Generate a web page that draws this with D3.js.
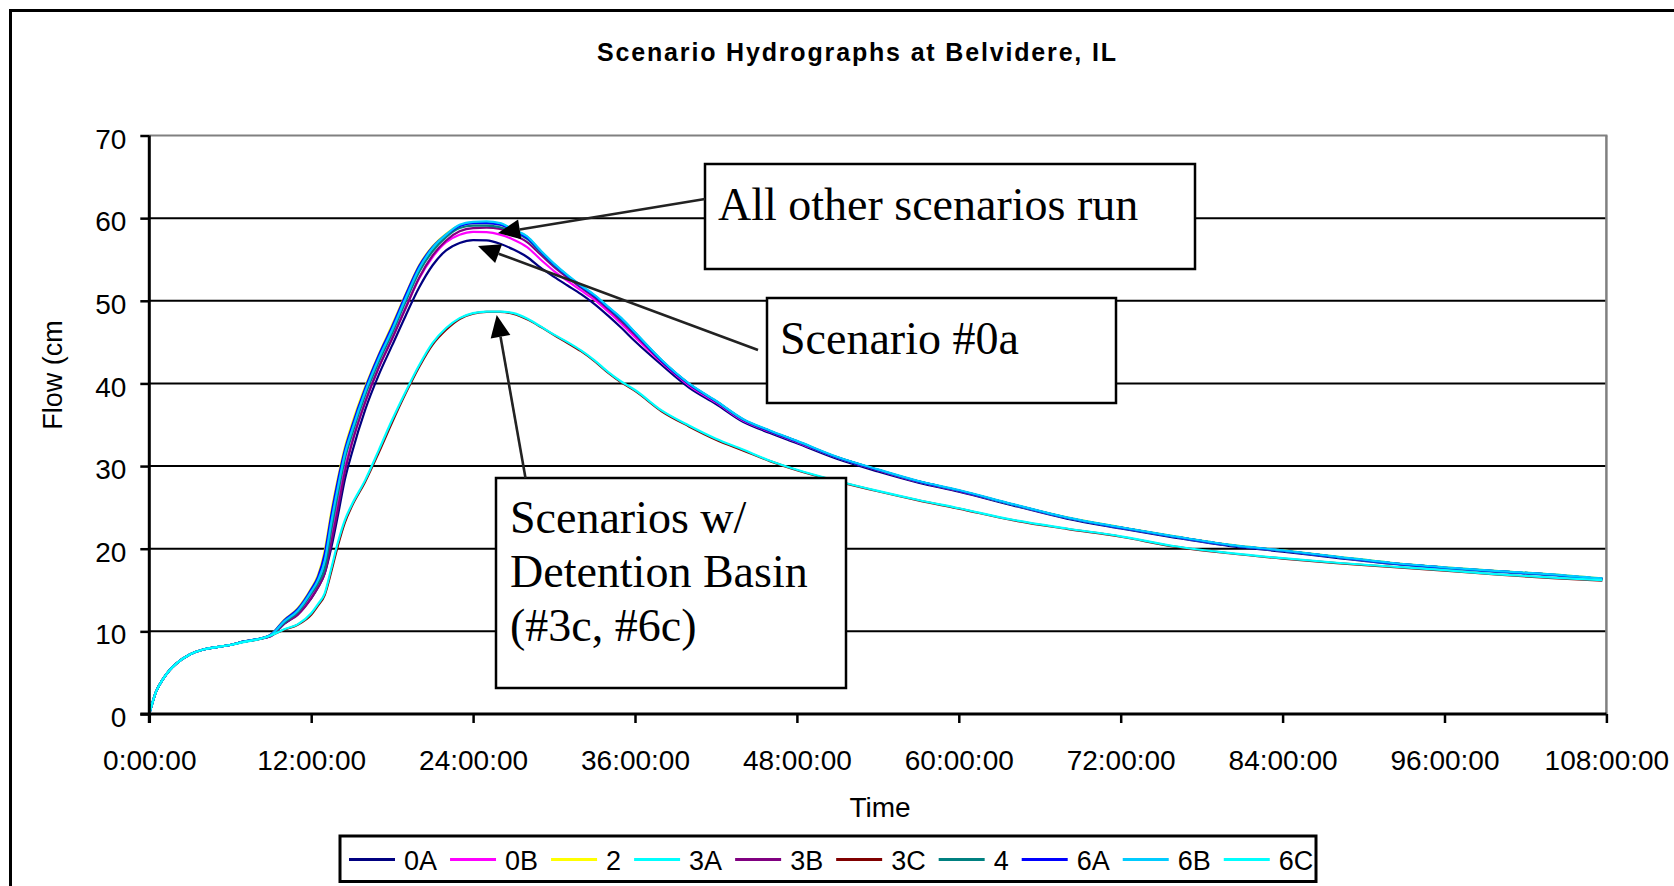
<!DOCTYPE html>
<html><head><meta charset="utf-8">
<script src="https://cdn.jsdelivr.net/npm/d3@7"></script>
<style>
html,body{margin:0;padding:0;background:#fff;}
svg{display:block;}
</style></head>
<body><svg id="chart" width="1674" height="886"></svg>
<script>
// ---- data ----
const times = [0, 0.5, 1, 1.5, 2, 3, 4, 5, 6, 7, 8, 9, 10, 11, 12, 12.5, 13, 13.5, 14, 14.5, 15, 16, 17, 18, 19, 20, 21, 22, 23, 24, 25, 26, 27, 28, 29, 30, 31, 32, 33, 34, 35, 36, 38, 40, 42, 44, 46, 48, 51, 54, 57, 60, 64, 68, 72, 76, 80, 84, 88, 92, 96, 100, 104, 107.7];

const s0A = [0, 2.7, 4.2, 5.3, 6.1, 7.2, 7.8, 8.1, 8.35, 8.75, 9.05, 9.4,
 10.9, 12.1, 14.0,
 15.3, 17.0, 20.2, 24.2, 28.4, 31.5,
 36.8, 41.0, 44.6, 48.2, 51.6, 54.3, 56.1, 57.0, 57.35, 57.3, 56.9, 56.2, 55.3, 54.0, 52.9, 51.85, 50.8, 49.6, 48.2, 46.7, 45.1,
 42.2, 39.5, 37.5, 35.35, 34.0, 32.75,
 30.85, 29.35, 28.0, 26.9,
 25.25, 23.65, 22.45, 21.35, 20.35, 19.65, 18.9, 18.2, 17.65, 17.2, 16.8,
 16.3];
const s0B = [0, 2.7, 4.2, 5.3, 6.1, 7.2, 7.8, 8.1, 8.35, 8.75, 9.05, 9.45,
 11.0, 12.3, 14.3,
 15.7, 17.6, 21.5, 25.7, 29.8, 32.8,
 37.8, 41.9, 45.5, 49.2, 52.7, 55.3, 57.1, 58.0, 58.35, 58.3, 58.0, 57.4, 56.5, 55.0, 53.6, 52.4, 51.25, 50.1, 48.7, 47.2, 45.6,
 42.5, 39.75, 37.7, 35.5, 34.15, 32.9,
 31.0, 29.5, 28.1, 27.0,
 25.35, 23.75, 22.55, 21.45, 20.45, 19.75, 19.0, 18.25, 17.7, 17.25, 16.85,
 16.35];
const s2 = [0, 2.7, 4.2, 5.3, 6.1, 7.2, 7.8, 8.1, 8.35, 8.75, 9.05, 9.6,
 11.4, 12.8, 15.2,
 16.8, 19.8, 24.6, 28.7, 32.3, 35.0,
 39.6, 43.5, 47.1, 50.8, 54.3, 56.6, 58.1, 59.1, 59.4, 59.4, 59.2, 58.5, 57.6, 56.0, 54.4, 53.0, 51.75, 50.6, 49.2, 47.8, 46.1,
 42.7, 39.95, 37.85, 35.65, 34.25, 33.0,
 31.05, 29.55, 28.15, 27.05,
 25.35, 23.8, 22.6, 21.5, 20.5, 19.8, 19.05, 18.3, 17.75, 17.3, 16.9,
 16.4];
const s3A = [0, 2.7, 4.2, 5.3, 6.1, 7.2, 7.8, 8.1, 8.35, 8.75, 9.05, 9.55,
 11.2, 12.5, 14.75,
 16.1, 18.4, 23.1, 27.4, 31.4, 34.1,
 38.9, 42.9, 46.4, 50.2, 53.8, 56.3, 57.9, 59.1, 59.5, 59.5, 59.35, 58.55, 57.75, 56.05, 54.45, 53.05, 51.8, 50.65, 49.25, 47.85, 46.15,
 42.75, 39.95, 37.85, 35.65, 34.25, 33.0,
 31.05, 29.55, 28.15, 27.05,
 25.35, 23.75, 22.55, 21.45, 20.45, 19.75, 19.0, 18.25, 17.7, 17.25, 16.85,
 16.35];
const s3B = [0, 2.7, 4.2, 5.3, 6.1, 7.2, 7.8, 8.1, 8.35, 8.75, 9.05, 9.45,
 10.95, 12.0, 14.0,
 15.3, 17.0, 20.8, 25.0, 29.3, 32.6,
 37.7, 41.9, 45.4, 49.1, 52.8, 55.5, 57.3, 58.4, 58.8, 58.85, 58.7, 58.0, 57.1, 55.6, 54.1, 52.8, 51.6, 50.4, 49.0, 47.5, 45.9,
 42.6, 39.9, 37.8, 35.6, 34.2, 32.95,
 31.0, 29.5, 28.1, 27.0,
 25.35, 23.75, 22.55, 21.45, 20.45, 19.75, 19.0, 18.25, 17.7, 17.25, 16.85,
 16.35];
const s3C = [0, 2.7, 4.2, 5.3, 6.1, 7.2, 7.8, 8.1, 8.35, 8.75, 9.0, 9.5,
 10.2, 10.8, 12.0,
 13.1, 14.4, 17.3, 20.5, 23.2, 25.1,
 28.1, 31.6, 35.3, 38.8, 42.0, 44.7, 46.5, 47.8, 48.45, 48.65, 48.65, 48.4, 47.75, 46.85, 45.85, 44.9, 43.9, 42.7, 41.3, 40.1, 39.1,
 36.6, 34.8, 33.2, 31.9, 30.6, 29.5,
 28.15, 26.95, 25.85, 24.85,
 23.45, 22.4, 21.45, 20.25, 19.45, 18.8, 18.25, 17.8, 17.35, 16.85, 16.45,
 16.15];
const s4 = [0, 2.7, 4.2, 5.3, 6.1, 7.2, 7.8, 8.1, 8.35, 8.75, 9.05, 9.5,
 11.05, 12.3, 14.55,
 15.8, 17.6, 22.4, 26.8, 30.9, 33.7,
 38.6, 42.6, 46.1, 49.9, 53.5, 56.0, 57.7, 58.8, 59.1, 59.1, 58.9, 58.3, 57.5, 55.9, 54.3, 53.0, 51.75, 50.6, 49.2, 47.7, 46.1,
 42.75, 39.95, 37.85, 35.65, 34.25, 33.0,
 31.05, 29.55, 28.15, 27.05,
 25.35, 23.75, 22.55, 21.45, 20.45, 19.75, 19.0, 18.25, 17.7, 17.25, 16.85,
 16.35];
const s6A = [0, 2.7, 4.2, 5.3, 6.1, 7.2, 7.8, 8.1, 8.35, 8.75, 9.05, 9.6,
 11.35, 12.7, 15.1,
 16.6, 19.4, 24.2, 28.4, 32.0, 34.7,
 39.4, 43.4, 46.9, 50.7, 54.2, 56.5, 58.0, 59.05, 59.4, 59.4, 59.2, 58.5, 57.6, 56.0, 54.4, 53.0, 51.75, 50.6, 49.2, 47.8, 46.1,
 42.7, 39.95, 37.85, 35.65, 34.25, 33.0,
 31.05, 29.55, 28.15, 27.05,
 25.35, 23.75, 22.55, 21.45, 20.45, 19.75, 19.0, 18.25, 17.7, 17.25, 16.85,
 16.35];
const s6B = [0, 2.7, 4.2, 5.3, 6.1, 7.2, 7.8, 8.1, 8.35, 8.75, 9.05, 9.55,
 11.2, 12.5, 14.8,
 16.2, 18.5, 23.3, 27.6, 31.5, 34.2,
 39.0, 43.0, 46.5, 50.3, 53.9, 56.4, 58.0, 59.2, 59.55, 59.6, 59.4, 58.6, 57.8, 56.1, 54.5, 53.1, 51.85, 50.7, 49.3, 47.9, 46.2,
 42.8, 40.0, 37.9, 35.7, 34.3, 33.05,
 31.1, 29.6, 28.2, 27.1,
 25.4, 23.8, 22.6, 21.5, 20.5, 19.8, 19.05, 18.3, 17.75, 17.3, 16.9,
 16.4];
const s6C = [0, 2.7, 4.2, 5.3, 6.1, 7.2, 7.8, 8.1, 8.35, 8.7, 9.0, 9.5,
 10.25, 10.85, 12.2,
 13.3, 14.6, 17.7, 20.9, 23.5, 25.3,
 28.3, 31.9, 35.6, 39.0, 42.2, 44.9, 46.7, 47.9, 48.5, 48.7, 48.7, 48.5, 47.85, 46.9, 45.9, 45.0, 44.0, 42.8, 41.4, 40.2, 39.2,
 36.7, 34.9, 33.3, 32.0, 30.65, 29.55,
 28.2, 27.0, 25.9, 24.9,
 23.5, 22.45, 21.5, 20.3, 19.5, 18.85, 18.3, 17.85, 17.4, 16.9, 16.5,
 16.2];

const seriesNames = ["0A", "0B", "2", "3A", "3B", "3C", "4", "6A", "6B", "6C"];
const seriesValues = [s0A, s0B, s2, s3A, s3B, s3C, s4, s6A, s6B, s6C];
const seriesColors = ["#000080", "#FF00FF", "#FFFF00", "#00FFFF", "#800080", "#800000", "#008080", "#0000FF", "#00CCFF", "#00FFFF"];

const yTicks = [0, 10, 20, 30, 40, 50, 60, 70];
const xTicks = [0, 12, 24, 36, 48, 60, 72, 84, 96, 108];
const xTickLabels = ["0:00:00", "12:00:00", "24:00:00", "36:00:00", "48:00:00", "60:00:00", "72:00:00", "84:00:00", "96:00:00", "108:00:00"];

const titleText = "Scenario Hydrographs at Belvidere, IL";
const xTitle = "Time";
const yTitle = "Flow (cm";

// ---- drawing ----
const svg = d3.select("#chart");
const W = 1674, H = 886;
const sans = "'Liberation Sans', Arial, sans-serif";
const serif = "'Liberation Serif', 'Times New Roman', serif";

svg.append("rect").attr("width", W).attr("height", H).attr("fill", "#fff");

// outer frame
svg.append("line").attr("x1", 9).attr("x2", W).attr("y1", 10.5).attr("y2", 10.5).attr("stroke", "#000").attr("stroke-width", 3);
svg.append("line").attr("x1", 10.5).attr("x2", 10.5).attr("y1", 9).attr("y2", H).attr("stroke", "#000").attr("stroke-width", 3);

const x = d3.scaleLinear().domain([0, 108]).range([149.3, 1606.4]);
const y = d3.scaleLinear().domain([0, 70]).range([714, 135.5]);

// title
svg.append("text").attr("x", 597).attr("y", 61)
  .attr("font-family", sans).attr("font-size", 25).attr("font-weight", "bold")
  .attr("textLength", 519).attr("lengthAdjust", "spacing")
  .text(titleText);

// gridlines
const gridG = svg.append("g");
gridG.selectAll("line").data(yTicks.filter(d => d > 0 && d < 70)).join("line")
  .attr("x1", x(0)).attr("x2", x(108))
  .attr("y1", d => y(d)).attr("y2", d => y(d))
  .attr("stroke", "#000").attr("stroke-width", 2);
// plot area top / right border (gray)
svg.append("line").attr("x1", x(0)).attr("x2", x(108) + 1).attr("y1", y(70)).attr("y2", y(70)).attr("stroke", "#808080").attr("stroke-width", 2);
svg.append("line").attr("x1", x(108)).attr("x2", x(108)).attr("y1", y(70)).attr("y2", y(0)).attr("stroke", "#808080").attr("stroke-width", 2.5);

// series
const line = d3.line().x(d => x(d[0])).y(d => y(d[1])).curve(d3.curveMonotoneX);
const seriesG = svg.append("g");
seriesNames.forEach((name, i) => {
  const pts = times.map((t, k) => [t, seriesValues[i][k]]);
  seriesG.append("path").datum(pts)
    .attr("d", line).attr("fill", "none")
    .attr("stroke", seriesColors[i]).attr("stroke-width", 2.2)
    .attr("stroke-linejoin", "round");
});

// axes
const yAxis = d3.axisLeft(y).tickValues(yTicks).tickSize(9).tickSizeOuter(0).tickFormat(d3.format("d"));
const yG = svg.append("g").attr("transform", `translate(${x(0)},0)`).call(yAxis);
yG.select(".domain").attr("stroke", "#000").attr("stroke-width", 3).attr("d", `M0,${y(70)}V${y(0) + 9}`);
yG.selectAll(".tick line").attr("stroke", "#000").attr("stroke-width", 2.5);
yG.selectAll(".tick text").attr("font-family", sans).attr("font-size", 28).attr("fill", "#000")
  .attr("x", -23).attr("dy", "0.45em");

const xAxis = d3.axisBottom(x).tickValues(xTicks).tickSize(9).tickSizeOuter(0).tickFormat((d, i) => xTickLabels[i]);
const xG = svg.append("g").attr("transform", `translate(0,${y(0)})`).call(xAxis);
xG.select(".domain").attr("stroke", "#000").attr("stroke-width", 3).attr("d", `M${x(0) - 9},0H${x(108)}`);
xG.selectAll(".tick line").attr("stroke", "#000").attr("stroke-width", 2.5);
xG.selectAll(".tick text").attr("font-family", sans).attr("font-size", 28).attr("fill", "#000")
  .attr("y", 56).attr("dy", 0);

// axis titles
svg.append("text").attr("x", 880).attr("y", 817).attr("text-anchor", "middle")
  .attr("font-family", sans).attr("font-size", 28).text(xTitle);
svg.append("text").attr("transform", "translate(62,375) rotate(-90)").attr("text-anchor", "middle")
  .attr("font-family", sans).attr("font-size", 27).text(yTitle);

// legend
const legG = svg.append("g");
legG.append("rect").attr("x", 340).attr("y", 836).attr("width", 976).attr("height", 45.5)
  .attr("fill", "#fff").attr("stroke", "#000").attr("stroke-width", 3);
let lx = 349;
seriesNames.forEach((name, i) => {
  legG.append("line").attr("x1", lx).attr("x2", lx + 46).attr("y1", 859.5).attr("y2", 859.5)
    .attr("stroke", seriesColors[i]).attr("stroke-width", 3);
  const t = legG.append("text").attr("x", lx + 55).attr("y", 870)
    .attr("font-family", sans).attr("font-size", 27).text(name);
  const w = t.node().getComputedTextLength();
  lx = lx + 55 + w + 13;
});

// annotations
const ann = svg.append("g");
function box(x0, y0, x1, y1) {
  ann.append("rect").attr("x", x0).attr("y", y0).attr("width", x1 - x0).attr("height", y1 - y0)
    .attr("fill", "#fff").attr("stroke", "#000").attr("stroke-width", 2.5);
}
function arrow(xs, ys, xt, yt) {
  const ang = Math.atan2(yt - ys, xt - xs);
  const L = 22, hw = 10;
  const bx = xt - L * Math.cos(ang), by = yt - L * Math.sin(ang);
  ann.append("line").attr("x1", xs).attr("y1", ys).attr("x2", bx).attr("y2", by)
    .attr("stroke", "#222").attr("stroke-width", 2.6);
  const px = -Math.sin(ang), py = Math.cos(ang);
  ann.append("path").attr("d",
    `M${xt},${yt}L${bx + px * hw},${by + py * hw}L${bx - px * hw},${by - py * hw}Z`).attr("fill", "#000");
}
box(705, 164, 1195, 269);
ann.append("text").attr("x", 718).attr("y", 220).attr("font-family", serif).attr("font-size", 46).text("All other scenarios run");
box(767, 298, 1116, 403);
ann.append("text").attr("x", 780).attr("y", 354).attr("font-family", serif).attr("font-size", 46).text("Scenario #0a");
box(496, 478, 846, 688);
ann.append("text").attr("x", 510).attr("y", 533).attr("font-family", serif).attr("font-size", 46).text("Scenarios w/");
ann.append("text").attr("x", 510).attr("y", 587).attr("font-family", serif).attr("font-size", 46).text("Detention Basin");
ann.append("text").attr("x", 510).attr("y", 641).attr("font-family", serif).attr("font-size", 46).text("(#3c, #6c)");

arrow(705, 199, 498, 233);
arrow(758, 350, 478, 246);
arrow(525.5, 478, 496.7, 315);
</script>
</body></html>
